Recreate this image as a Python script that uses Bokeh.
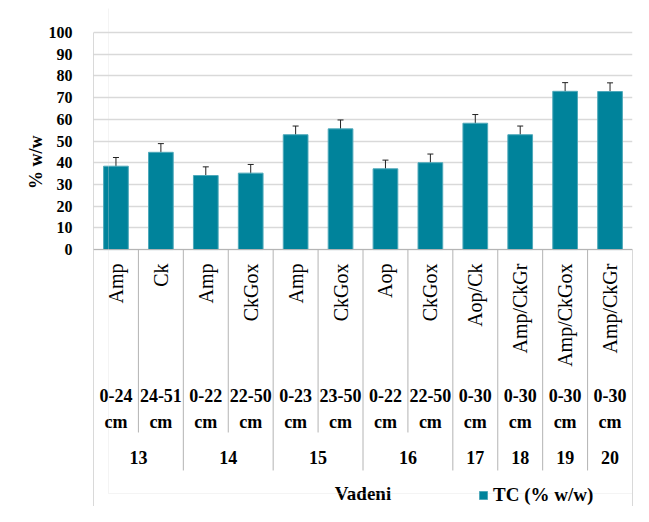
from bokeh.plotting import figure
from bokeh.models import (Range1d, FixedTicker, ColumnDataSource, Whisker, Legend,
                          LegendItem, BoxAnnotation, TeeHead, Title)
from bokeh.core.properties import value
from bokeh.embed import file_html
from bokeh.resources import INLINE

# ---------------- data ----------------
horizons = ["Amp", "Ck", "Amp", "CkGox", "Amp", "CkGox", "Aop", "CkGox",
            "Aop/Ck", "Amp/CkGr", "Amp/CkGox", "Amp/CkGr"]
depths = ["0-24 cm", "24-51 cm", "0-22 cm", "22-50 cm", "0-23 cm", "23-50 cm",
          "0-22 cm", "22-50 cm", "0-30 cm", "0-30 cm", "0-30 cm", "0-30 cm"]
profiles = ["13", "13", "14", "14", "15", "15", "16", "16", "17", "18", "19", "20"]
tc_values = [38.4, 44.8, 34.1, 35.2, 52.9, 55.6, 37.2, 40.0, 58.2, 52.9, 72.9, 72.8]
tc_errors = [4.0, 4.0, 4.0, 4.0, 4.0, 4.1, 4.0, 4.0, 4.0, 4.0, 4.0, 4.0]
site_name = "Vadeni"
series_name = "TC (% w/w)"
y_ticks = [0, 10, 20, 30, 40, 50, 60, 70, 80, 90, 100]
y_title = "% w/w"

# ---------------- style / layout ----------------
FONT = value("Liberation Serif")
BAR = "#00839B"
SEP = "#b4b4b4"
GRID = "#d9d9d9"
Y_HOR_TOP = -6.45
Y_DEPTH = -73.3
Y_SHORT = -84.3
Y_PROF = -95.9
Y_LONG = -101.8
Y_SITE = -112.6
Y_OUTER = -118.4

n = len(tc_values)
idx = list(range(n))

p = figure(width=633, height=506, output_backend="svg", toolbar_location=None,
           x_range=Range1d(-0.5, n - 0.5), y_range=Range1d(Y_OUTER, 111.06),
           x_axis_type=None, min_border_left=93, min_border_right=1,
           min_border_top=8, min_border_bottom=0)
p.outline_line_color = None
p.xgrid.visible = False
p.ygrid.ticker = FixedTicker(ticks=y_ticks)
p.ygrid.grid_line_color = GRID
p.ygrid.grid_line_width = 1.3

ax = p.yaxis[0]
ax.ticker = FixedTicker(ticks=y_ticks)
ax.bounds = (min(y_ticks), max(y_ticks))
ax.axis_line_color = None
ax.major_tick_line_color = None
ax.minor_tick_line_color = None
ax.major_label_standoff = 15
ax.major_label_text_font = "Liberation Serif"
ax.major_label_text_font_style = "bold"
ax.major_label_text_font_size = "16px"
ax.major_label_text_color = "#000000"

p.add_layout(Title(text=y_title, align="right", offset=127,
                   text_font="Liberation Serif", text_font_style="bold",
                   text_font_size="18px", text_color="#000000", standoff=0), "left")

# outer chart-area border (Excel style)
p.add_layout(BoxAnnotation(left=15, right=700, top=13, bottom=700,
                           left_units="screen", right_units="screen",
                           top_units="screen", bottom_units="screen",
                           fill_alpha=0, line_color=GRID, line_width=1))

src = ColumnDataSource(dict(x=idx, top=tc_values,
                            upper=[v + e for v, e in zip(tc_values, tc_errors)],
                            lower=[v - e for v, e in zip(tc_values, tc_errors)]))
bars = p.vbar(x="x", top="top", width=0.55, source=src, fill_color=BAR,
              line_color="#4fa9ba", line_width=1)
wk = Whisker(base="x", upper="upper", lower="lower", source=src,
             line_color="#222222", line_width=1,
             upper_head=TeeHead(size=6, line_color="#222222", line_width=1),
             lower_head=TeeHead(size=6, line_color="#222222", line_width=1))
p.add_layout(wk)

# separators of the category levels
sx, sy0, sy1 = [-0.5, n - 0.5], [max(y_ticks), 0], [Y_OUTER, Y_OUTER]
for i in range(n - 1):
    sx.append(i + 0.5)
    sy0.append(0)
    sy1.append(Y_LONG if profiles[i] != profiles[i + 1] else Y_SHORT)
p.segment(x0=sx, y0=sy0, x1=sx, y1=sy1, line_color=SEP, line_width=1)
p.segment(x0=[-0.5], y0=[0], x1=[n - 0.5], y1=[0], line_color=SEP, line_width=1)

# level 1: horizons (rotated)
p.text(x=idx, y=[Y_HOR_TOP] * n, text=horizons, angle=1.5708,
       text_align="right", text_baseline="middle", text_font=FONT,
       text_font_size="20px", text_color="#000000")
# level 2: depths
p.text(x=idx, y=[Y_DEPTH] * n, text=[d.replace(" ", "\n") for d in depths],
       text_align="center", text_baseline="middle", text_font=FONT,
       text_font_style="bold", text_font_size="18px", text_line_height=1.3,
       text_color="#000000")
# level 3: profiles
groups = []
for i, pr in enumerate(profiles):
    if groups and groups[-1][0] == pr:
        groups[-1][1].append(i)
    else:
        groups.append((pr, [i]))
p.text(x=[sum(g) / len(g) for _, g in groups], y=[Y_PROF] * len(groups),
       text=[pr for pr, _ in groups], text_align="center", text_baseline="middle",
       text_font=FONT, text_font_style="bold", text_font_size="18px",
       text_color="#000000")
# level 4: site
p.text(x=[(n - 1) / 2], y=[Y_SITE], text=[site_name], text_align="center",
       text_baseline="middle", text_font=FONT, text_font_style="bold",
       text_font_size="19px", text_color="#000000")

legend = Legend(items=[LegendItem(label=series_name, renderers=[bars])],
                location=(385, 0), padding=0, margin=0, spacing=0,
                glyph_width=10, glyph_height=10, label_standoff=5,
                label_text_font="Liberation Serif", label_text_font_style="bold",
                label_text_font_size="19px", label_text_color="#000000",
                border_line_color=None, background_fill_alpha=0)
p.add_layout(legend)

open("out.html", "w").write(file_html(p, INLINE))
